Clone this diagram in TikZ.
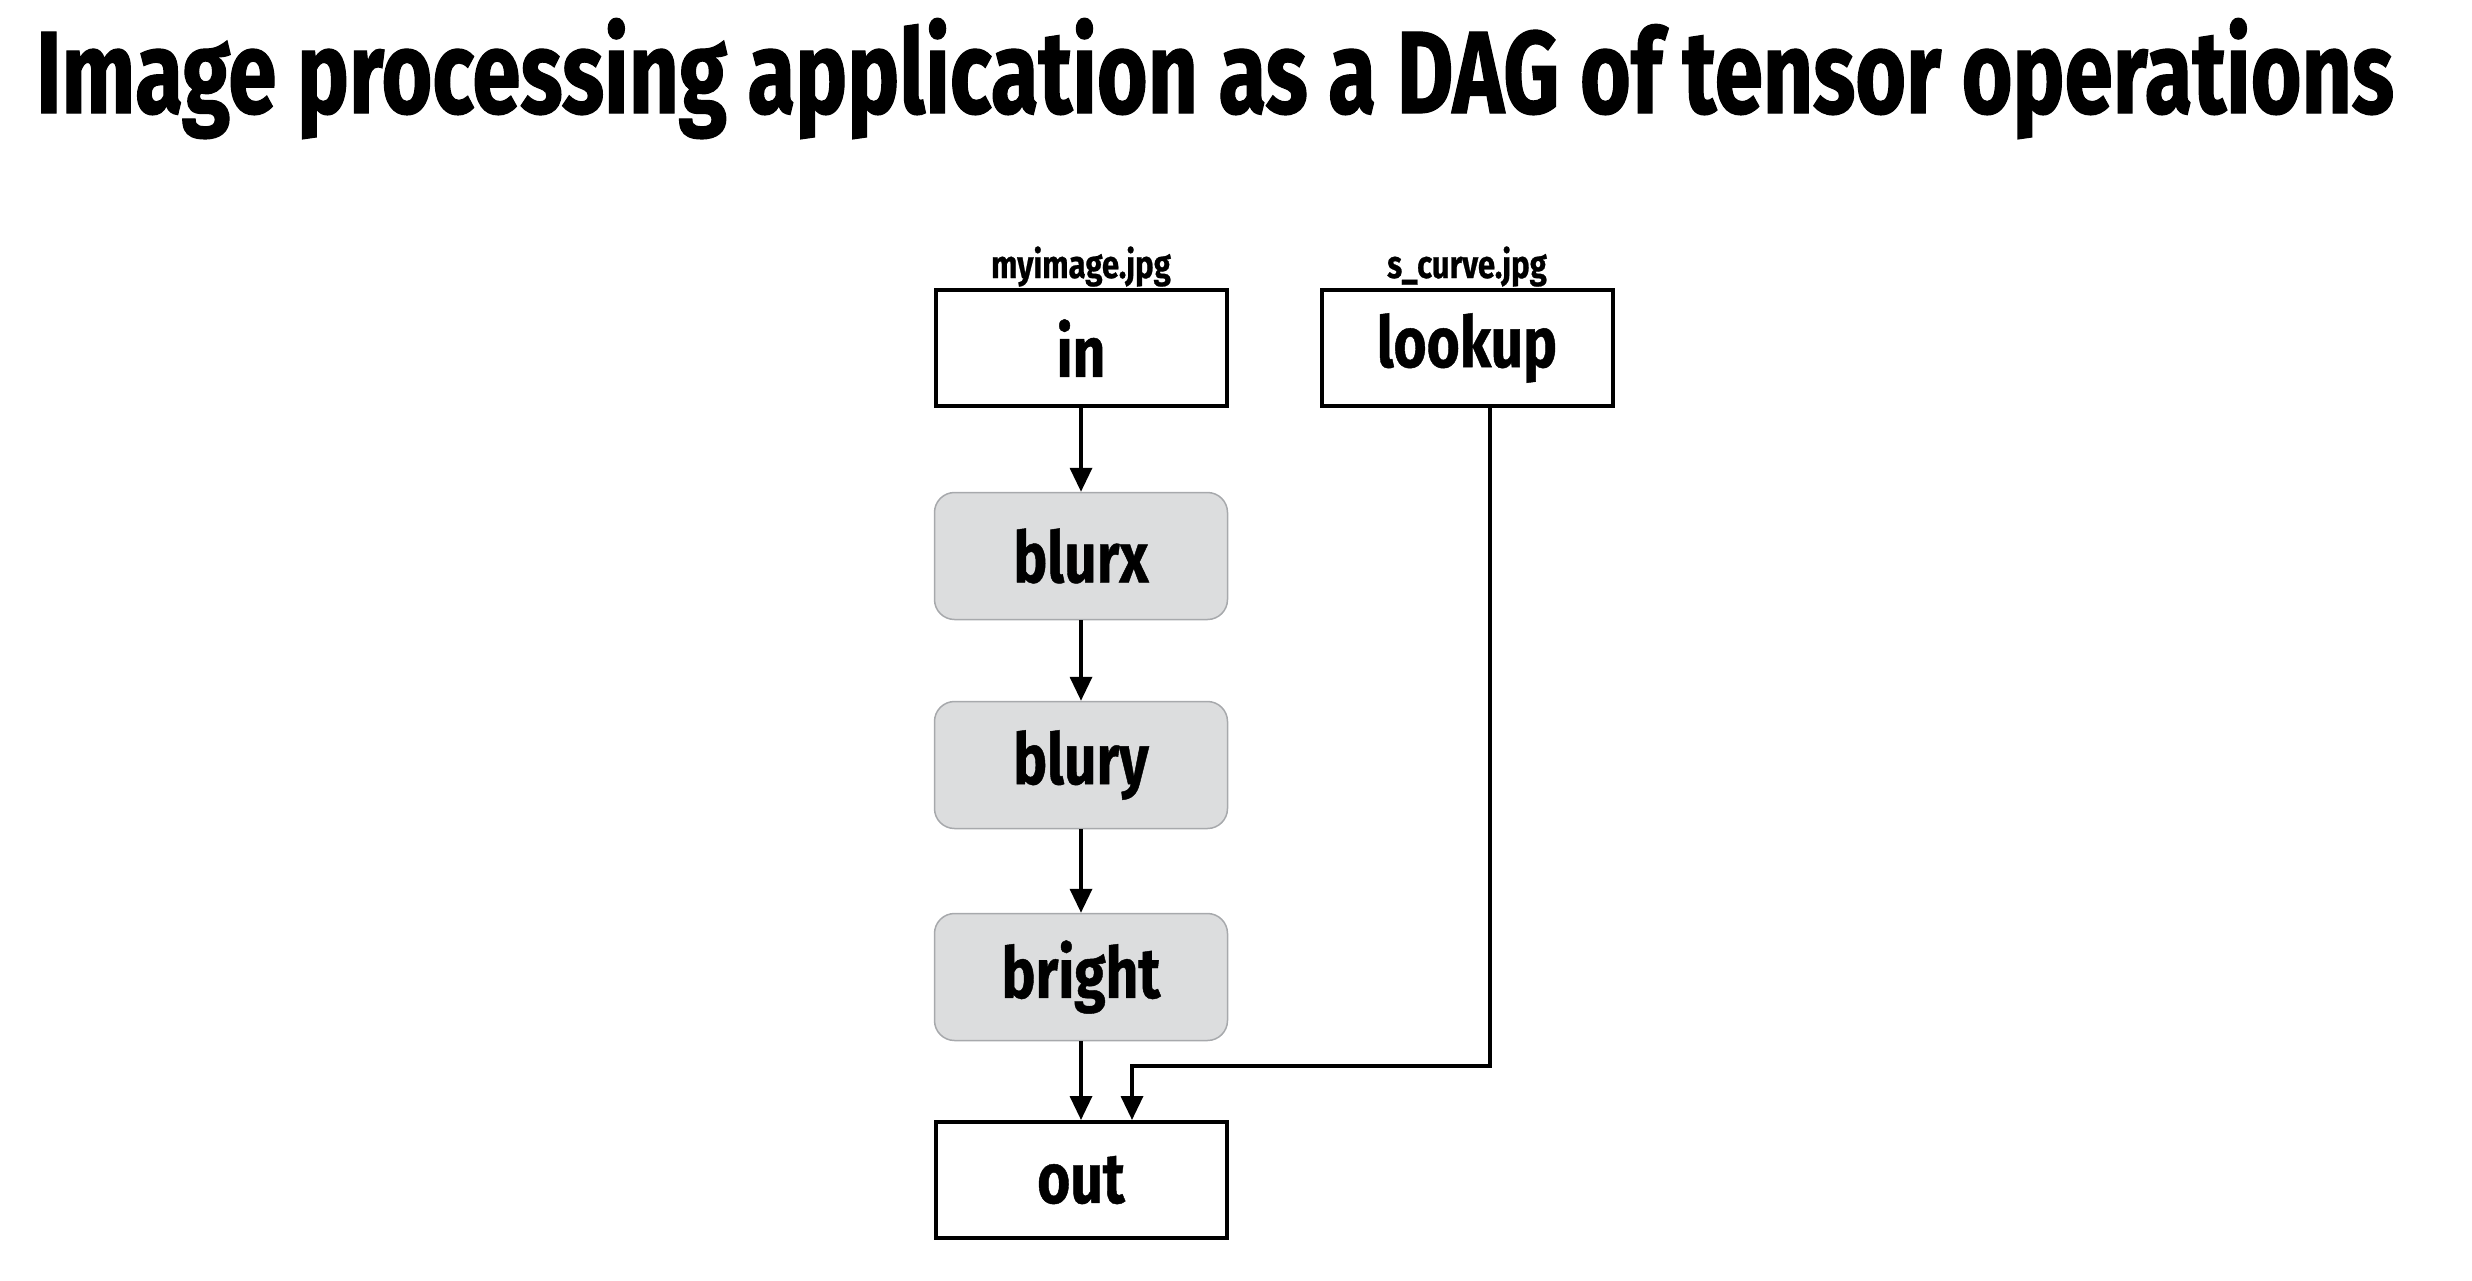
\documentclass[tikz,border=0pt]{standalone}
\usepackage{fontspec}
\setmainfont{Fira Sans}[FakeStretch=0.8,BoldFeatures={FakeBold=0.6}]
\newfontfamily\titlefont{Fira Sans}[FakeStretch=0.745,BoldFeatures={FakeBold=1}]
\usetikzlibrary{arrows.meta}
\definecolor{opfill}{HTML}{DCDDDE}
\definecolor{opline}{HTML}{A7A9AC}

\begin{document}
\begin{tikzpicture}
  [x=1pt,y=-1pt,every node/.style={inner sep=0pt},
   buffer/.style={draw,line width=4pt,minimum width=291pt,minimum height=116pt,
     font=\fontsize{71}{71}\selectfont\bfseries},
   stage/.style={draw=opline,line width=1.5pt,fill=opfill,rounded corners=20pt,
     minimum width=293pt,minimum height=127pt,font=\fontsize{71}{71}\selectfont\bfseries},
   flow/.style={line width=3.5pt,-{Triangle[width=22pt,length=24pt]}}]
  \tikzstyle{file} = [anchor=base,font=\fontsize{39}{39}\selectfont\bfseries]
  \useasboundingbox (0,0) rectangle (2472,1280);

  \node (title) [anchor=base,font=\fontsize{117}{117}\titlefont\bfseries] at (1215,113)
    {Image processing application as a DAG of tensor operations};

  \node (in) [buffer] at (1081,348) {in};
  \node (lookup) [buffer] at (1467,348) {lookup};
  \node (blurx) [stage] at (1081,556) {blurx};
  \node (blury) [stage] at (1081,765) {blury};
  \node (bright) [stage] at (1081,977) {bright};
  \node (out) [buffer] at (1081,1180) {out};

  \node (inname) [file] at (1081,278) {myimage.jpg};
  \node (lookupname) [file] at (1467,278) {s\_curve.jpg};

\foreach \source /\dest in {in/blurx,blurx/blury,blury/bright,bright/out}
   \draw[flow] (\source) -- (\dest);

  \coordinate (bend) at (1490,1066);
  \coordinate (tap) at (1132,1066);
  \draw[flow] (lookup.south -| bend) -- (bend) -- (tap) -- (tap |- out.north);
\end{tikzpicture}
\end{document}
